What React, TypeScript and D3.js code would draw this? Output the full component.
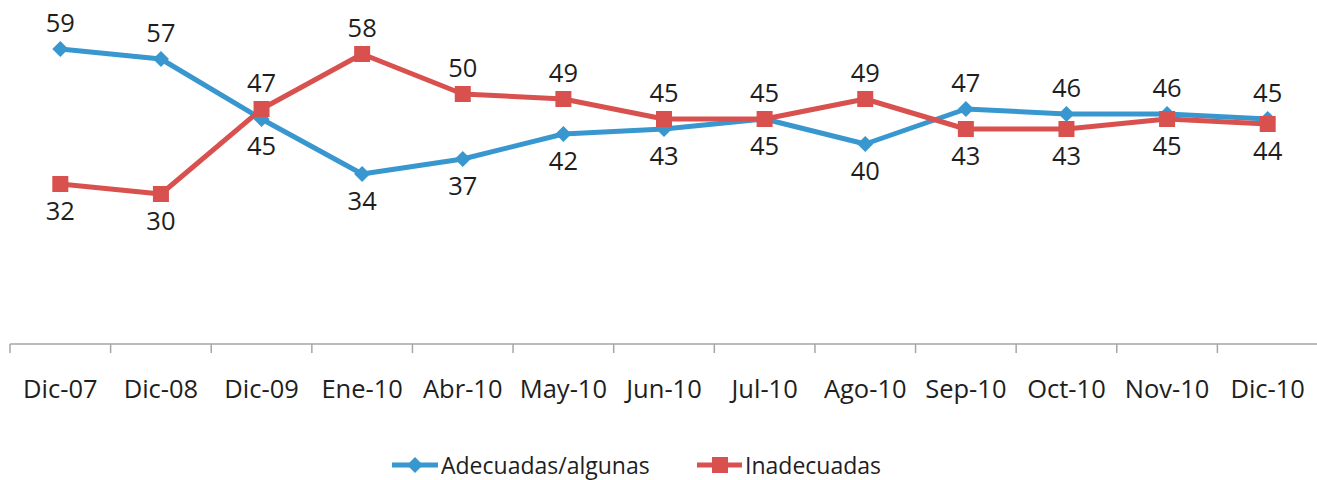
//@ts-nocheck
import * as d3 from "d3";

const categories = ["Dic-07", "Dic-08", "Dic-09", "Ene-10", "Abr-10", "May-10", "Jun-10", "Jul-10", "Ago-10", "Sep-10", "Oct-10", "Nov-10", "Dic-10"];
const adecuadas = [59, 57, 45, 34, 37, 42, 43, 45, 40, 47, 46, 46, 45];
const inadecuadas = [32, 30, 47, 58, 50, 49, 45, 45, 49, 43, 43, 45, 44];
const seriesNames = ["Adecuadas/algunas", "Inadecuadas"];

const BLUE = "#3897CF";
const RED = "#D9514E";
const FONT = "'Open Sans', sans-serif";
const TEXT = "#1e1e1e";

const App = () => {
  const width = 1317, height = 480;
  const x = d3.scaleBand().domain(categories).range([10, 1318]);
  const y = d3.scaleLinear().domain([0, 60]).range([344, 44]);
  const cx = c => x(c) + x.bandwidth() / 2;

  const line = d3.line().x(d => cx(d[0])).y(d => y(d[1]));
  const blueData = categories.map((c, i) => [c, adecuadas[i]]);
  const redData = categories.map((c, i) => [c, inadecuadas[i]]);

  const diamond = (px, py, r) => `M${px},${py - r}L${px + r},${py}L${px},${py + r}L${px - r},${py}Z`;

  // label above for the higher series, below for the lower one
  const blueAbove = adecuadas.map((v, i) => v > inadecuadas[i]);
  const redAbove = inadecuadas.map((v, i) => v >= adecuadas[i]);

  const label = (c, v, above, key) => (
    <text key={key} x={cx(c)} y={above ? y(v) - 17 : y(v) + 36} textAnchor="middle"
      fontSize={25.5} fill={TEXT} fontFamily={FONT}>{v}</text>
  );

  return (
    <svg width={width} height={height} style={{ position: "absolute", left: 0, top: 0 }}>
      {/* x axis */}
      <line x1={10} x2={1318} y1={344} y2={344} stroke="#A6A6A6" strokeWidth={1.5} />
      {categories.map(c => (
        <line key={"t" + c} x1={x(c)} x2={x(c)} y1={344} y2={353} stroke="#A6A6A6" strokeWidth={1.5} />
      ))}
      <line x1={1318} x2={1318} y1={344} y2={353} stroke="#A6A6A6" strokeWidth={1.5} />
      {categories.map(c => (
        <text key={"l" + c} x={cx(c)} y={398} textAnchor="middle" fontSize={25.5} fill={TEXT} fontFamily={FONT}>{c}</text>
      ))}

      {/* series */}
      <path d={line(blueData)} fill="none" stroke={BLUE} strokeWidth={5} strokeLinejoin="round" />
      <path d={line(redData)} fill="none" stroke={RED} strokeWidth={5} strokeLinejoin="round" />
      {blueData.map(d => (
        <path key={"bm" + d[0]} d={diamond(cx(d[0]), y(d[1]), 8)} fill={BLUE} />
      ))}
      {redData.map(d => (
        <rect key={"rm" + d[0]} x={cx(d[0]) - 8} y={y(d[1]) - 8} width={16} height={16} fill={RED} />
      ))}

      {/* data labels */}
      {blueData.map((d, i) => label(d[0], d[1], blueAbove[i], "bl" + i))}
      {redData.map((d, i) => label(d[0], d[1], redAbove[i], "rl" + i))}

      {/* legend */}
      <g>
        <line x1={392} x2={438} y1={465} y2={465} stroke={BLUE} strokeWidth={5} />
        <path d={diamond(415, 465, 8)} fill={BLUE} />
        <text x={441} y={474} fontSize={23} fill={TEXT} fontFamily={FONT}>{seriesNames[0]}</text>
        <line x1={697} x2={742} y1={465} y2={465} stroke={RED} strokeWidth={5} />
        <rect x={712} y={457} width={16} height={16} fill={RED} />
        <text x={745} y={474} fontSize={23} fill={TEXT} fontFamily={FONT}>{seriesNames[1]}</text>
      </g>
    </svg>
  );
};

export default App;
